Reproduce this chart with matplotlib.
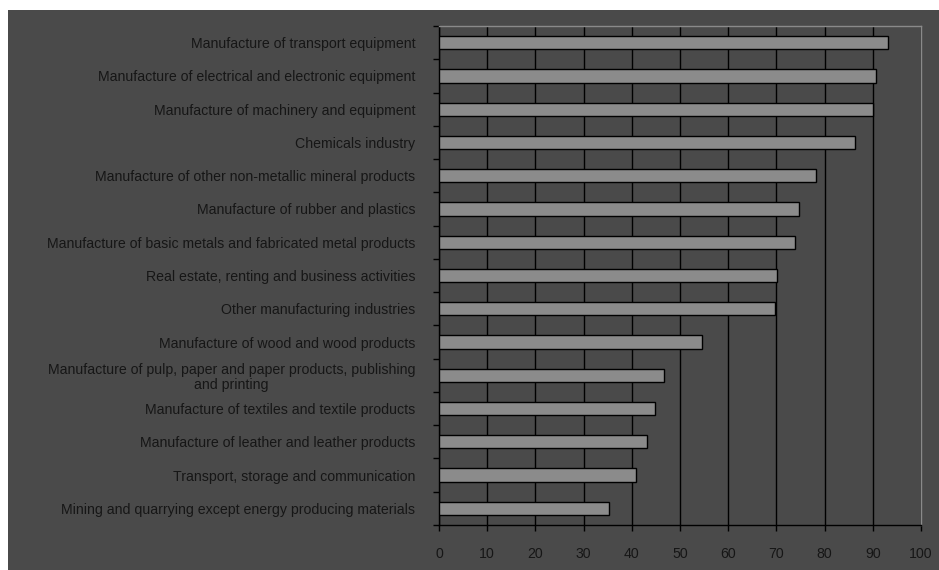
import matplotlib.pyplot as plt
import numpy as np
from matplotlib.patches import Rectangle

plt.rcParams["font.family"] = ["Liberation Sans", "DejaVu Sans"]

# Sectors listed top to bottom, with their scores
sectors = [
    "Manufacture of transport equipment",
    "Manufacture of electrical and electronic equipment",
    "Manufacture of machinery and equipment",
    "Chemicals industry",
    "Manufacture of other non-metallic mineral products",
    "Manufacture of rubber and plastics",
    "Manufacture of basic metals and fabricated metal products",
    "Real estate, renting and business activities",
    "Other manufacturing industries",
    "Manufacture of wood and wood products",
    "Manufacture of pulp, paper and paper products, publishing\nand printing",
    "Manufacture of textiles and textile products",
    "Manufacture of leather and leather products",
    "Transport, storage and communication",
    "Mining and quarrying except energy producing materials",
]
scores = [93.2, 90.7, 90.0, 86.4, 78.2, 74.7, 73.9, 70.1, 69.7, 54.6, 46.6, 44.8, 43.2, 40.8, 35.3]
x_ticks = [0, 10, 20, 30, 40, 50, 60, 70, 80, 90, 100]

panel = "#4a4a4a"
bar_fill = "#8b8b8b"
text_col = "#161616"

W, H = 939, 570
fig = plt.figure(figsize=(W / 100, H / 100), dpi=100)
fig.patch.set_facecolor("white")
fig.add_artist(Rectangle((8 / W, 0), 1 - 8 / W, 1 - 10 / H, transform=fig.transFigure,
                         facecolor=panel, edgecolor="none", zorder=0))

ax = fig.add_axes([439 / W, 1 - 525 / H, (921 - 439) / W, (525 - 26) / H])
ax.set_facecolor(panel)

n = len(sectors)
ypos = np.arange(n)[::-1]
ax.barh(ypos, scores, height=0.4, color=bar_fill, edgecolor="black", linewidth=1.0, zorder=3)

ax.set_xlim(0, 100)
ax.set_ylim(-0.5, n - 0.5)
ax.set_xticks(x_ticks)
ax.set_xticklabels([str(v) for v in x_ticks], fontsize=10.2, color=text_col)
ax.tick_params(axis="x", direction="out", length=4, width=1, color="black", pad=12)

ax.set_yticks(ypos)
ax.set_yticklabels(sectors, fontsize=10.2, color=text_col, linespacing=1.1)
ax.set_yticks(np.arange(-0.5, n, 1.0), minor=True)
ax.tick_params(axis="y", which="major", length=0, pad=17)
ax.tick_params(axis="y", which="minor", direction="out", length=4, width=1, color="black")
for lbl in ax.get_yticklabels():
    lbl.set_multialignment("center")

ax.xaxis.grid(True, color="black", linewidth=1.0, zorder=1)
ax.set_axisbelow(True)

ax.spines["left"].set_color("black")
ax.spines["bottom"].set_color("black")
ax.spines["top"].set_color("#8a8a8a")
ax.spines["right"].set_color("#8a8a8a")
for s in ax.spines.values():
    s.set_linewidth(1.0)

fig.savefig("out.png", dpi=100, facecolor=fig.get_facecolor())
